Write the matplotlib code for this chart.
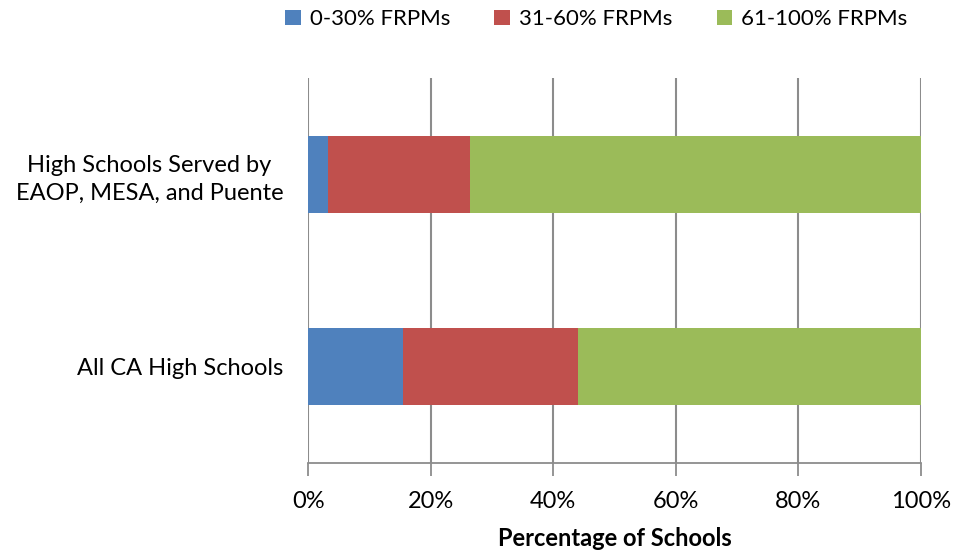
import matplotlib.pyplot as plt
import numpy as np

categories = ["All CA High Schools", "High Schools Served by\nEAOP, MESA, and Puente"]
series_names = ["0-30% FRPMs", "31-60% FRPMs", "61-100% FRPMs"]
low_frpm = [15.5, 3.2]
mid_frpm = [28.6, 23.2]
high_frpm = [55.9, 73.6]
tick_values = [0, 20, 40, 60, 80, 100]
tick_labels = ["0%", "20%", "40%", "60%", "80%", "100%"]

colors = ["#4F81BD", "#C0504D", "#9BBB59"]
grid_color = "#8C8C8C"

plt.rcParams['font.family'] = ['Lato', 'DejaVu Sans']

fig = plt.figure(figsize=(9.54, 5.5), dpi=100)
ax = fig.add_axes([0.323, 0.158, 0.642, 0.700])

y = np.arange(len(categories))
left = np.zeros(len(categories))
for values, name, color in zip([low_frpm, mid_frpm, high_frpm], series_names, colors):
    ax.barh(y, values, left=left, height=0.40, color=color, label=name, zorder=3)
    left += np.array(values)

ax.set_xlim(0, 100)
ax.set_ylim(-0.5, 1.5)
ax.set_xticks(tick_values)
ax.set_xticklabels(tick_labels, fontsize=17)
ax.set_yticks(y)
ax.set_yticklabels(categories, fontsize=17, linespacing=1.4, multialignment="center")
ax.tick_params(axis='y', length=0, pad=18)
ax.tick_params(axis='x', length=9, width=1.3, color=grid_color, pad=11)

ax.xaxis.grid(True, color=grid_color, linewidth=1.5, zorder=0)
for side in ["top", "right", "left"]:
    ax.spines[side].set_visible(False)
ax.spines["bottom"].set_color(grid_color)
ax.spines["bottom"].set_linewidth(1.3)

ax.set_xlabel("Percentage of Schools", fontsize=17, fontweight="bold", labelpad=11)

fig.legend(loc="center", bbox_to_anchor=(0.625, 0.965), ncol=3, frameon=False,
           fontsize=16, handlelength=0.7, handleheight=0.7, handletextpad=0.4,
           columnspacing=2.0)

fig.savefig("out.png", dpi=100)
